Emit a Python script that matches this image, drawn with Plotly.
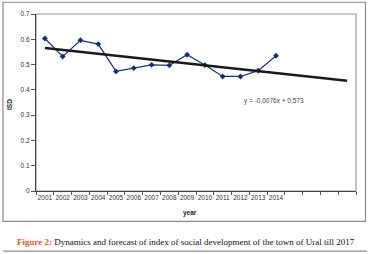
import plotly.graph_objects as go

years = [str(y) for y in range(2001, 2019)]
labeled_years = [str(y) for y in range(2001, 2015)]
isd = [0.603, 0.532, 0.596, 0.581, 0.473, 0.486, 0.499, 0.497, 0.539, 0.498, 0.453, 0.453, 0.476, 0.535]
trend_slope = -0.0076
trend_intercept = 0.573
y_ticks = [0, 0.1, 0.2, 0.3, 0.4, 0.5, 0.6, 0.7]
y_ticktext = ["0", "0.1", "0.2", "0.3", "0.4", "0.5", "0.6", "0.7"]

W, H = 368, 254
L, R, T, B = 36, 356, 10, 191

def px(x):
    return (x - L) / (R - L)

def py(y):
    return (B - y) / (B - T)

trend_x = [years[0], years[-1]]
trend_y = [trend_intercept + trend_slope * 1, trend_intercept + trend_slope * len(years)]

fig = go.Figure()
fig.add_trace(go.Scatter(
    x=labeled_years, y=isd, mode="lines+markers",
    line=dict(color="#1c2a80", width=1.2),
    marker=dict(symbol="diamond", size=4.5, color="#1c2a80"),
    showlegend=False, hoverinfo="skip"))
fig.add_trace(go.Scatter(
    x=trend_x, y=trend_y, mode="lines",
    line=dict(color="#1a1a1a", width=2.6),
    showlegend=False, hoverinfo="skip"))

tick_font = dict(family="Liberation Sans, Arial, sans-serif", size=6.5, color="#333")

def ann(text, x, y, size=6.5, family="Liberation Sans, Arial, sans-serif", color="#222", angle=0):
    return dict(text=text, xref="paper", yref="paper", x=px(x), y=py(y),
                xanchor="center", yanchor="middle", showarrow=False, textangle=angle,
                font=dict(family=family, size=size, color=color))

fig.update_layout(
    width=W, height=H,
    margin=dict(l=L, r=W - R, t=T, b=H - B),
    paper_bgcolor="white", plot_bgcolor="white",
    xaxis=dict(
        type="category", categoryorder="array", categoryarray=years,
        tickvals=years,
        ticktext=[y if y in labeled_years else "" for y in years],
        tickson="boundaries", ticks="outside", ticklen=3, tickcolor="#555",
        tickangle=0,
        showline=True, linecolor="#444", linewidth=1.2,
        showgrid=False, zeroline=False, tickfont=tick_font,
        range=[-0.5, len(years) - 0.5],
    ),
    yaxis=dict(
        range=[0, 0.7], tickvals=y_ticks, ticktext=y_ticktext,
        ticks="outside", ticklen=4, tickcolor="#555",
        showline=True, linecolor="#444", linewidth=1.2,
        showgrid=False, zeroline=False, tickfont=tick_font,
    ),
    shapes=[
        dict(type="rect", xref="paper", yref="paper", x0=0, x1=1, y0=0, y1=1,
             line=dict(color="#9a9a9a", width=1.2), layer="below"),
        dict(type="rect", xref="paper", yref="paper",
             x0=px(3), x1=px(365.5), y0=py(222), y1=py(-2),
             line=dict(color="#8a8a8a", width=1.2), layer="below"),
        dict(type="line", xref="paper", yref="paper",
             x0=px(3), x1=px(367), y0=py(252.5), y1=py(252.5),
             line=dict(color="#8a8a8a", width=1.2)),
    ],
    annotations=[
        ann("y = -0,0076x + 0,573", 274, 98.5, color="#444"),
        ann("<b>year</b>", 190, 213),
        ann("<b>ISD</b>", 10, 103, angle=-90),
        ann("<b><span style='color:#e2571e'>Figure 2:</span></b> Dynamics and forecast of index of social development of the town of Ural till 2017",
            186, 243, size=9, family="Liberation Serif, Times New Roman, serif", color="#111"),
    ],
)

fig.write_html("out.html")
